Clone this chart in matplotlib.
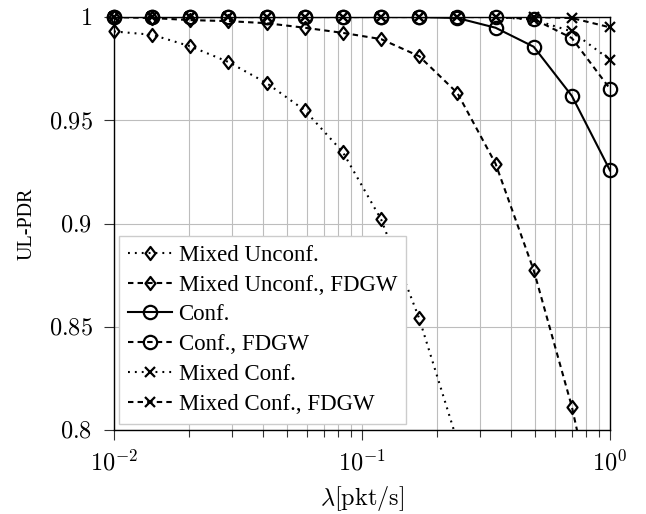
import matplotlib
matplotlib.use("Agg")
import matplotlib.pyplot as plt
from matplotlib.path import Path
from matplotlib.ticker import FixedLocator, FixedFormatter, LogLocator, NullFormatter

plt.rcParams['font.family'] = ['Liberation Serif', 'DejaVu Serif']
plt.rcParams['mathtext.fontset'] = 'cm'

# ---- data ----
lam = [0.01, 0.01425, 0.02031, 0.02894, 0.04125, 0.05878, 0.08377,
       0.1194, 0.1701, 0.2424, 0.3455, 0.4924, 0.7017, 1.0]

mixed_unconf = [0.993, 0.9914, 0.9858, 0.9782, 0.968, 0.9548, 0.9345,
                0.902, 0.854, 0.7945]
mixed_unconf_fdgw = [1.0, 0.9995, 0.9985, 0.998, 0.997, 0.9948, 0.9923,
                     0.9893, 0.981, 0.9632, 0.929, 0.8774, 0.8113, 0.727]
conf = [1.0, 1.0, 1.0, 1.0, 1.0, 1.0, 1.0, 1.0, 1.0, 0.9995, 0.9948,
        0.9856, 0.9618, 0.9257]
conf_fdgw = [1.0, 1.0, 1.0, 1.0, 1.0, 1.0, 1.0, 1.0, 1.0, 1.0, 1.0,
             0.999, 0.9898, 0.9652]
mixed_conf = [1.0, 1.0, 1.0, 1.0, 1.0, 1.0, 1.0, 1.0, 1.0, 1.0, 1.0,
              0.9987, 0.993, 0.9793]
mixed_conf_fdgw = [1.0, 1.0, 1.0, 1.0, 1.0, 1.0, 1.0, 1.0, 1.0, 1.0, 1.0,
                   1.0, 0.9995, 0.995]

labels = ["Mixed Unconf.", "Mixed Unconf., FDGW", "Conf.", "Conf., FDGW",
          "Mixed Conf.", "Mixed Conf., FDGW"]
yticks = [0.8, 0.85, 0.9, 0.95, 1.0]
ytick_labels = ["$0.8$", "$0.85$", "$0.9$", "$0.95$", "$1$"]
xticks = [0.01, 0.1, 1.0]
xtick_labels = ["$10^{-2}$", "$10^{-1}$", "$10^{0}$"]
xlabel = r"$\lambda[\mathrm{pkt/s}]$"
ylabel = "UL-PDR"

# ---- styles ----
diamond = Path([(0, 1), (0.77, 0), (0, -1), (-0.77, 0), (0, 1)],
               [Path.MOVETO, Path.LINETO, Path.LINETO, Path.LINETO, Path.CLOSEPOLY])
dotted = (0, (0.9, 2.4))
dashed = (0, (2.6, 2.0))
LW = 1.5
series = [
    (mixed_unconf, dotted, diamond, 9.4),
    (mixed_unconf_fdgw, dashed, diamond, 9.4),
    (conf, '-', 'o', 9.6),
    (conf_fdgw, dashed, 'o', 9.6),
    (mixed_conf, dotted, 'x', 7.5),
    (mixed_conf_fdgw, dashed, 'x', 7.5),
]

fig = plt.figure(figsize=(6.46, 5.14), dpi=100)
ax = fig.add_axes([114/646, 1-430/514, 496/646, 413/514])

ymin, ymax = 0.8, 1.0
handles = []
for (vals, ls, mk, ms), lab in zip(series, labels):
    xs = lam[:len(vals)]
    ax.plot(xs, vals, color='k', lw=LW, ls=ls, zorder=3)
    mx = [x for x, v in zip(xs, vals) if v >= ymin]
    my = [v for v in vals if v >= ymin]
    ax.plot(mx, my, ls='none', marker=mk, ms=ms, mec='k', mfc='none',
            mew=1.6, clip_on=False, zorder=4)
    h, = ax.plot([], [], color='k', lw=LW, ls=ls, marker=mk, ms=ms,
                 mec='k', mfc='none', mew=1.6, label=lab)
    handles.append(h)

ax.set_xscale('log')
ax.set_xlim(0.01, 1.0)
ax.set_ylim(ymin, ymax)

ax.xaxis.set_major_locator(FixedLocator(xticks))
ax.xaxis.set_major_formatter(FixedFormatter(xtick_labels))
ax.xaxis.set_minor_locator(LogLocator(base=10, subs=range(2, 10)))
ax.xaxis.set_minor_formatter(NullFormatter())
ax.yaxis.set_major_locator(FixedLocator(yticks))
ax.yaxis.set_major_formatter(FixedFormatter(ytick_labels))

ax.grid(True, which='major', color='#bdbdbd', lw=0.8, zorder=0)
ax.grid(True, which='minor', axis='x', color='#bdbdbd', lw=0.8, zorder=0)
ax.set_axisbelow(True)

ax.tick_params(which='major', direction='out', length=7.5, width=0.8,
               color='#333333', labelsize=17.5, pad=8)
ax.tick_params(which='minor', direction='out', length=5, width=0.8,
               color='#333333')
ax.tick_params(axis='x', which='major', pad=7)

for sp in ax.spines.values():
    sp.set_linewidth(1.0)
    sp.set_color('k')

ax.set_xlabel(xlabel, fontsize=17.5, labelpad=6)
ax.set_ylabel(ylabel, fontsize=14.5, labelpad=9)

leg = ax.legend(handles=handles, loc='lower left',
                bbox_to_anchor=(0.01, 0.015), borderaxespad=0,
                fontsize=16.5, frameon=True, fancybox=False,
                edgecolor='#cccccc', framealpha=1, handlelength=1.9,
                handletextpad=0.3, labelspacing=0.38, borderpad=0.4)
leg.get_frame().set_linewidth(1.0)
leg.set_zorder(10)

fig.savefig("out.png", dpi=100)
